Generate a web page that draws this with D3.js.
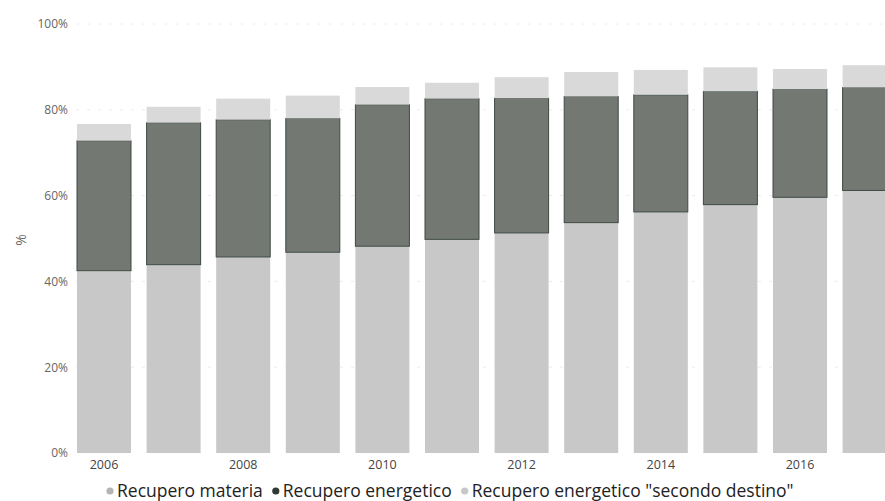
<!DOCTYPE html>
<html><head><meta charset="utf-8">
<script src="https://cdn.jsdelivr.net/npm/d3@7"></script>
<style>body{margin:0;background:#fff;} svg{display:block;}</style>
</head><body>
<svg id="c" width="885" height="501"></svg>
<script>
const years = ["2006","2007","2008","2009","2010","2011","2012","2013","2014","2015","2016","2017"];
const materia = [42.5, 43.9, 45.7, 46.8, 48.2, 49.8, 51.3, 53.7, 56.2, 57.9, 59.6, 61.2];
const energetico = [30.3, 33.1, 32.0, 31.2, 33.0, 32.8, 31.4, 29.4, 27.3, 26.4, 25.2, 24.0];
const secondo = [3.9, 3.7, 4.9, 5.3, 4.1, 3.7, 4.9, 5.7, 5.8, 5.6, 4.7, 5.2];
const seriesNames = ["Recupero materia", "Recupero energetico", "Recupero energetico \"secondo destino\""];
const yTicks = [0, 20, 40, 60, 80, 100];
const tickYears = ["2006","2008","2010","2012","2014","2016"];

const colors = ["#c7c8c7", "#737873", "#d8d9d8"];
const strokes = ["none", "#3f4a44", "none"];

const svg = d3.select("#c");
const x = d3.scaleBand().domain(years).range([77, 896.6]).paddingInner(0.224).paddingOuter(0);
const y = d3.scaleLinear().domain([0, 100]).range([453, 24]);

// gridlines
svg.append("g").selectAll("line").data(yTicks.filter(d => d > 0)).join("line")
  .attr("x1", 76).attr("x2", 885)
  .attr("y1", d => y(d)).attr("y2", d => y(d))
  .attr("stroke", "#ececec").attr("stroke-width", 1).attr("stroke-dasharray", "3,8");

const table = years.map((yr, i) => ({year: yr, materia: materia[i], energetico: energetico[i], secondo: secondo[i]}));
const stack = d3.stack().keys(["materia", "energetico", "secondo"])(table);

stack.forEach((layer, li) => {
  svg.append("g").selectAll("rect").data(layer).join("rect")
    .attr("x", d => x(d.data.year))
    .attr("width", x.bandwidth())
    .attr("y", d => y(d[1]))
    .attr("height", d => y(d[0]) - y(d[1]))
    .attr("fill", colors[li])
    .attr("stroke", strokes[li])
    .attr("stroke-width", li === 1 ? 1 : 0);
});

// y axis
const yAxis = d3.axisLeft(y).tickValues(yTicks).tickFormat(d => d + "%").tickSize(0).tickPadding(0);
const ya = svg.append("g").attr("transform", "translate(68,0)").call(yAxis);
ya.select(".domain").remove();
ya.selectAll("text").attr("font-family", "Open Sans, sans-serif").attr("font-size", 12).attr("fill", "#666");

svg.append("text").attr("transform", "translate(26,240) rotate(-90)")
  .attr("text-anchor", "middle").attr("font-family", "Open Sans, sans-serif")
  .attr("font-size", 14).attr("fill", "#666").text("%");

// x axis
const xAxis = d3.axisBottom(x).tickValues(tickYears).tickSize(0).tickPadding(7);
const xa = svg.append("g").attr("transform", "translate(0,453)").call(xAxis);
xa.select(".domain").remove();
xa.selectAll("text").attr("font-family", "Open Sans, sans-serif").attr("font-size", 12.5).attr("fill", "#444");

// legend
const legend = svg.append("g").attr("transform", "translate(110,497)");
const legendColors = ["#b3b4b3", "#2f3a34", "#c6c7c6"];
let lx = 0;
seriesNames.forEach((name, i) => {
  const g = legend.append("g").attr("transform", `translate(${lx},0)`);
  g.append("circle").attr("cx", 0).attr("cy", -6).attr("r", 3.6).attr("fill", legendColors[i]);
  const t = g.append("text").attr("x", 7).attr("y", 0)
    .attr("font-family", "Open Sans, sans-serif").attr("font-size", 17.5).attr("fill", "#222").text(name);
  lx += 7 + t.node().getComputedTextLength() + 13;
});
</script>
</body></html>
